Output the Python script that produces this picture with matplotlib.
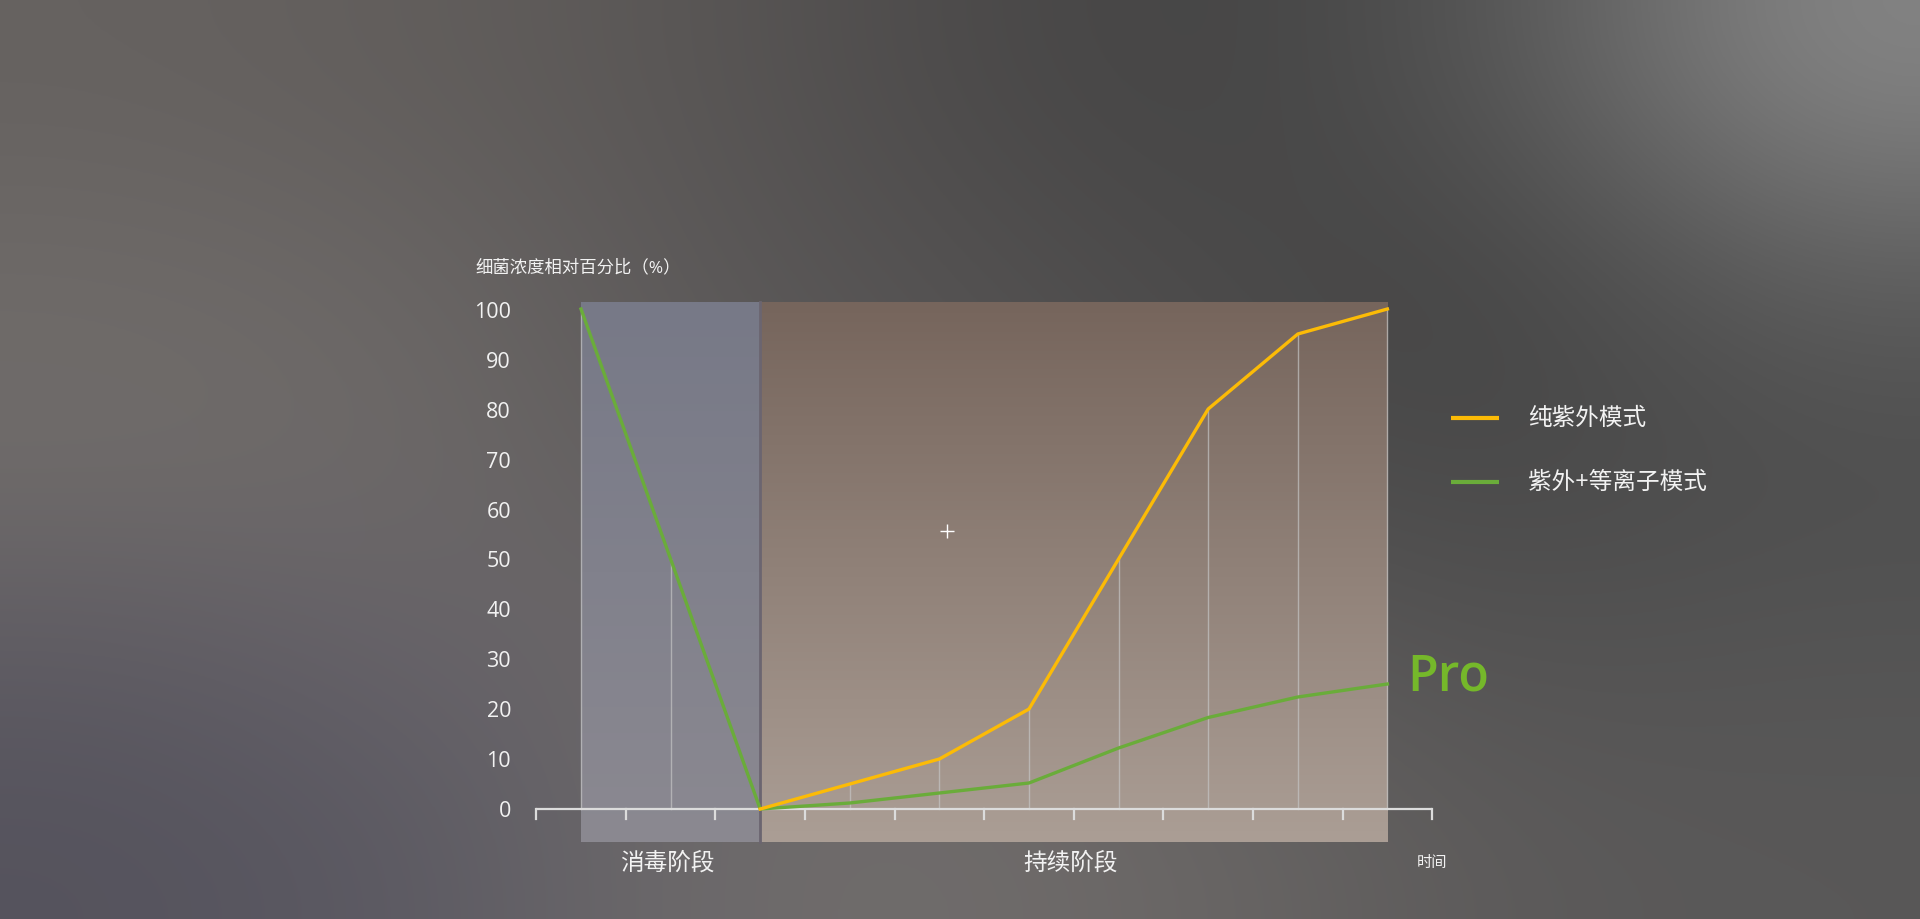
import numpy as np
import matplotlib
matplotlib.use("Agg")
import matplotlib.pyplot as plt
from matplotlib.colors import to_rgb

plt.rcParams['font.family'] = ['Open Sans', 'Noto Sans CJK SC', 'DejaVu Sans']

# data
steps = list(range(10))
uv_only = [np.nan, np.nan, 0, 5, 10, 20, 50, 80, 95, 100]
uv_plasma = [100, 50, 0, 1.2, 3.2, 5.2, 12.2, 18.3, 22.4, 25]
y_ticks = [0, 10, 20, 30, 40, 50, 60, 70, 80, 90, 100]
x_ticks = [-0.5, 0.5, 1.5, 2.5, 3.5, 4.5, 5.5, 6.5, 7.5, 8.5, 9.5]
series_names = ["纯紫外模式", "紫外+等离子模式"]
phase_names = ["消毒阶段", "持续阶段"]
phase_spans = [(0, 2), (2, 9)]
y_title = "细菌浓度相对百分比（%）"
x_title = "时间"

YELLOW = "#fcbb06"
GREEN = "#6aac3a"
WHITE = "#f2f2f2"

fig = plt.figure(figsize=(19.2, 9.2), dpi=100)

# background gradient
bg_rows = [
    ["#666260", "#625e5c", "#5a5756", "#4c4a4a", "#444444", "#555555", "#858585"],
    ["#6e6a68", "#6a6665", "#5c5959", "#535151", "#4a4949", "#444444", "#5e5e5e"],
    ["#716d6b", "#6e6a69", "#605d5d", "#585656", "#4e4d4d", "#484848", "#4e4e4e"],
    ["#5f5c63", "#67636a", "#6c6868", "#6a6766", "#5c5a5a", "#535252", "#555555"],
    ["#55535d", "#5c5a63", "#6d6a6b", "#716d6c", "#686564", "#5c5a5a", "#595858"],
]
bg = np.array([[to_rgb(c) for c in row] for row in bg_rows])
bax = fig.add_axes([0, 0, 1, 1])
bax.imshow(bg, aspect="auto", interpolation="bicubic", extent=[0, 1, 0, 1])
bax.set_axis_off()

# main axes mapped so that x=0 -> 581px, 89.6 px/step, y=0 -> 810px, 5 px/unit
W, H = 1920, 920
x0px, sx = 581, 89.6
y0px, sy = 810, 5.0
xlim = (-0.6, 9.6)
ylim = (-8, 103)
left = x0px + xlim[0] * sx
right = x0px + xlim[1] * sx
top = y0px - ylim[1] * sy
bottom = y0px - ylim[0] * sy
ax = fig.add_axes([left / W, 1 - bottom / H, (right - left) / W, (bottom - top) / H])
ax.set_xlim(*xlim)
ax.set_ylim(*ylim)
ax.set_axis_off()

# phase backgrounds
region_bottom, region_top = -6.6, 101.4
grad = np.linspace(0, 1, 200)[:, None]
gray_top, gray_bot = np.array(to_rgb("#777987")), np.array(to_rgb("#8b8991"))
brown_top, brown_bot = np.array(to_rgb("#76655c")), np.array(to_rgb("#ab9e95"))
gray_img = gray_top[None, None, :] * (1 - grad[..., None]) + gray_bot[None, None, :] * grad[..., None]
brown_img = brown_top[None, None, :] * (1 - grad[..., None]) + brown_bot[None, None, :] * grad[..., None]
ax.imshow(gray_img, aspect="auto", extent=[phase_spans[0][0], phase_spans[0][1], region_bottom, region_top],
          zorder=1)
ax.imshow(brown_img, aspect="auto", extent=[phase_spans[1][0], phase_spans[1][1], region_bottom, region_top],
          zorder=1)
ax.set_xlim(*xlim)
ax.set_ylim(*ylim)
ax.plot([phase_spans[1][0]] * 2, [region_bottom, region_top], color="#6b6570", lw=2, zorder=2)

# vertical guide lines
for x, a, b in zip(steps, uv_only, uv_plasma):
    top_val = np.nanmax([a, b])
    if top_val > 0:
        ax.plot([x, x], [0, top_val], color="#c4c4c4", lw=1, alpha=0.7, zorder=2)

# x axis line with ticks
ax.plot([x_ticks[0], x_ticks[-1]], [0, 0], color="#dcdcdc", lw=1.6, zorder=3, solid_capstyle="butt")
for t in x_ticks:
    ax.plot([t, t], [0, -1.9], color="#dcdcdc", lw=1.6, zorder=3, clip_on=False)

# y tick labels
for v in y_ticks:
    ax.text(-0.78, v - 0.4, str(v), ha="right", va="center", color=WHITE, fontsize=15.5)

# series
ax.plot(steps, uv_plasma, color=GREEN, lw=2.4, zorder=4, solid_joinstyle="round")
ax.plot(steps, uv_only, color=YELLOW, lw=2.4, zorder=5, solid_joinstyle="round")

# labels
ax.text(-1.18, 108.4, y_title, ha="left", va="center", color=WHITE, fontsize=12.5)
for (a, b), name in zip(phase_spans, phase_names):
    ax.text((a + b) / 2 - 0.04, -10.8, name, ha="center", va="center", color=WHITE, fontsize=17)
ax.text(9.5, -10.8, x_title, ha="center", va="center", color=WHITE, fontsize=11)

# legend
for yy, col, name in zip([78.2, 65.4], [YELLOW, GREEN], series_names):
    ax.plot([9.71, 10.24], [yy, yy], color=col, lw=3, clip_on=False, solid_capstyle="butt")
    ax.text(10.57, yy, name, ha="left", va="center", color=WHITE, fontsize=17)

# Pro mark and cursor
ax.text(9.22, 26.4, "Pro", ha="left", va="center", color="#75b82a", fontsize=36, fontweight="semibold")
ax.plot([4.08], [55.6], marker="+", color="white", markersize=10, mew=1, zorder=6)

fig.savefig("out.png", dpi=100)
